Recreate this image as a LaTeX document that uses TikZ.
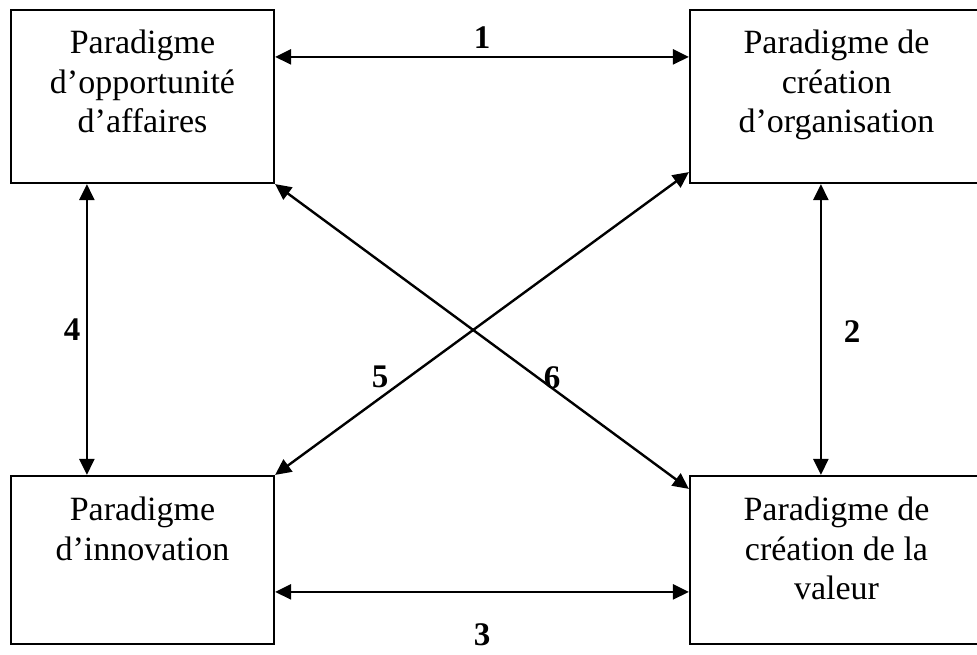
\documentclass[tikz,border=0pt]{standalone}
\usepackage{fontspec}
\setmainfont{Liberation Serif}
\usepackage{tikz}
\usetikzlibrary{arrows.meta,positioning}
\tikzset{
  parbox/.style ={draw, rectangle, inner sep=0pt, line width=2.2pt,
                  fill=white},
  boxtxt/.style ={align=center, inner sep=0pt,
                  font=\fontsize{34}{39.5}\selectfont},
  link/.style   ={{Triangle[length=16pt,width=15pt]}-{Triangle[length=16pt,width=15pt]},
                  line width=2.4pt},
  numlbl/.style ={inner sep=0pt, font=\fontsize{33}{39.5}\selectfont\bfseries},
}
\begin{document}
\begin{tikzpicture}[x=1pt,y=-1pt]
  \useasboundingbox (0,0) rectangle (977,654);
  % ---- the four paradigms
  \node[parbox, minimum width=263pt, minimum height=173pt] (opp) at (142.5,96.5) {};
  \node[parbox, minimum width=293pt, minimum height=173pt] (org) at (836.5,96.5) {};
  \node[parbox, minimum width=263pt, minimum height=168pt] (inn) at (142.5,560) {};
  \node[parbox, minimum width=293pt, minimum height=168pt] (val) at (836.5,560) {};
  \node[boxtxt, below=21pt of opp.north] (oppt) {Paradigme\\d’opportunité\\d’affaires};
  \node[boxtxt, below=21pt of org.north] (orgt) {Paradigme de\\création\\d’organisation};
  \node[boxtxt, below=22pt of inn.north] (innt) {Paradigme\\d’innovation};
  \node[boxtxt, below=22pt of val.north] (valt) {Paradigme de\\création de la\\valeur};
  % ---- links between them
  \draw[link] ([yshift=-48pt]opp.north east) -- ([yshift=-48pt]org.north west);
  \draw[link] ([xshift=132pt]org.south west) -- ([xshift=132pt]val.north west);
  \draw[link] ([yshift=-117pt]inn.north east) -- ([yshift=-117pt]val.north west);
  \draw[link] ([xshift=77pt]opp.south west) -- ([xshift=77pt]inn.north west);
  \draw[link] (inn.north east) -- ([yshift=12pt]org.south west);
  \draw[link] (opp.south east) -- ([yshift=-14pt]val.north west);
  % ---- link numbers
  \node[numlbl] (n1) at (482,38)  {1};
  \node[numlbl] (n2) at (852,332) {2};
  \node[numlbl] (n3) at (482,635) {3};
  \node[numlbl] (n4) at (72,330)  {4};
  \node[numlbl] (n5) at (380,377) {5};
  \node[numlbl] (n6) at (552,378) {6};
\end{tikzpicture}
\end{document}
